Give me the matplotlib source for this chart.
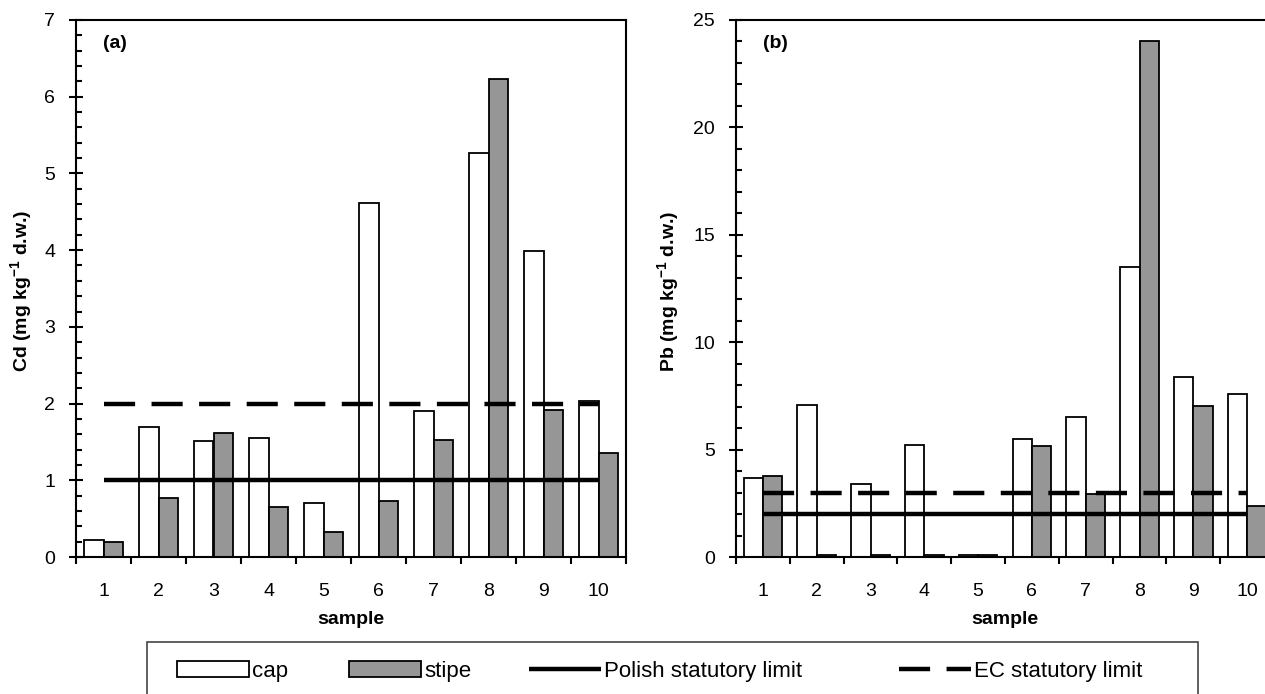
import numpy as np
import matplotlib
matplotlib.use("Agg")
import matplotlib.pyplot as plt
from matplotlib.patches import Rectangle, Patch
from matplotlib.lines import Line2D
from matplotlib.ticker import MultipleLocator, FixedLocator, NullFormatter, FixedFormatter

plt.rcParams['font.family'] = ['Liberation Sans', 'DejaVu Sans']
plt.rcParams['mathtext.fontset'] = 'custom'
plt.rcParams['mathtext.rm'] = 'Liberation Sans'
plt.rcParams['mathtext.bf'] = 'Liberation Sans:bold'

samples = ['1', '2', '3', '4', '5', '6', '7', '8', '9', '10']

cd_cap = [0.22, 1.69, 1.51, 1.55, 0.71, 4.61, 1.90, 5.26, 3.99, 2.03]
cd_stipe = [0.19, 0.77, 1.62, 0.65, 0.33, 0.73, 1.52, 6.23, 1.91, 1.36]
cd_polish = 1.0
cd_ec = 2.0

pb_cap = [3.66, 7.07, 3.40, 5.22, 0.10, 5.50, 6.50, 13.49, 8.37, 7.60]
pb_stipe = [3.75, 0.10, 0.10, 0.10, 0.10, 5.15, 2.95, 24.02, 7.02, 2.36]
pb_polish = 2.0
pb_ec = 3.0

W, H = 1265, 694
fig = plt.figure(figsize=(W / 100, H / 100), dpi=100)

grey = '#969696'
bw = 0.36
lw_lim = 3.2
dash = (7, 3.7)


def panel(rect, cap, stipe, polish, ec, ymax, major, minor, ylabel, tag, ylab_x):
    ax = fig.add_axes(rect)
    x = np.arange(len(samples))
    ax.bar(x - bw / 2, cap, bw, color='white', edgecolor='black', linewidth=1.3, zorder=2)
    ax.bar(x + bw / 2, stipe, bw, color=grey, edgecolor='black', linewidth=1.3, zorder=2)
    ax.plot(x, [polish] * len(x), color='black', lw=lw_lim, solid_capstyle='butt', zorder=3)
    ax.plot(x, [ec] * len(x), color='black', lw=lw_lim, ls=(0, dash), dash_capstyle='butt', zorder=3)

    ax.set_xlim(-0.5, len(samples) - 0.5)
    ax.set_ylim(0, ymax)

    # boundaries get the tick marks, centres get the labels
    ax.xaxis.set_major_locator(FixedLocator(np.arange(-0.5, len(samples), 1.0)))
    ax.xaxis.set_major_formatter(NullFormatter())
    ax.xaxis.set_minor_locator(FixedLocator(x))
    ax.xaxis.set_minor_formatter(FixedFormatter(samples))
    ax.tick_params(axis='x', which='major', direction='out', length=5, width=1.5)
    ax.tick_params(axis='x', which='minor', length=0, pad=19, labelsize=14)

    ax.yaxis.set_major_locator(MultipleLocator(major))
    ax.yaxis.set_minor_locator(MultipleLocator(minor))
    ax.tick_params(axis='y', which='major', direction='inout', length=10, width=1.5, pad=10, labelsize=14)
    ax.tick_params(axis='y', which='minor', direction='in', length=4.5, width=1.5)

    for s in ax.spines.values():
        s.set_linewidth(1.5)

    ax.set_xlabel('sample', fontsize=14, fontweight='bold')
    ax.xaxis.set_label_coords(0.5, -0.1)
    ax.set_ylabel(ylabel, fontsize=14, fontweight='bold')
    ax.yaxis.set_label_coords(ylab_x, 0.495)
    ax.text(0.05, 0.957, tag, transform=ax.transAxes, fontsize=14,
            fontweight='bold', ha='left', va='center')
    return ax


panel([76 / W, 137 / H, 550 / W, 537 / H], cd_cap, cd_stipe, cd_polish, cd_ec,
      7, 1, 0.2, 'Cd (mg kg$^{\\mathbf{-1}}$ d.w.)', '(a)', -0.075)
panel([736 / W, 137 / H, 538 / W, 537 / H], pb_cap, pb_stipe, pb_polish, pb_ec,
      25, 5, 1, 'Pb (mg kg$^{\\mathbf{-1}}$ d.w.)', '(b)', -0.100)

# legend box runs off the bottom of the figure
fig.patches.append(Rectangle((147 / W, -0.05), 1051 / W, (H - 642) / H + 0.05,
                             transform=fig.transFigure, fill=False,
                             edgecolor='#444444', linewidth=1.2))

handles = [
    Patch(facecolor='white', edgecolor='black', linewidth=1.3),
    Patch(facecolor=grey, edgecolor='black', linewidth=1.3),
    Line2D([], [], color='black', lw=lw_lim, solid_capstyle='butt'),
    Line2D([], [], color='black', lw=lw_lim, ls=(0, dash), dash_capstyle='butt'),
]
labels = ['cap', 'stipe', 'Polish statutory limit', 'EC statutory limit']
leg_x = [177, 349, 529, 899]
fs = 16
for h, lab, lx in zip(handles, labels, leg_x):
    leg = fig.legend([h], [lab], loc='center left', bbox_to_anchor=(lx / W, (H - 671) / H),
                     frameon=False, fontsize=fs, handlelength=72 / (fs * 1.389),
                     handleheight=0.7, handletextpad=0.15, borderpad=0, borderaxespad=0)

fig.savefig('out.png', dpi=100)
